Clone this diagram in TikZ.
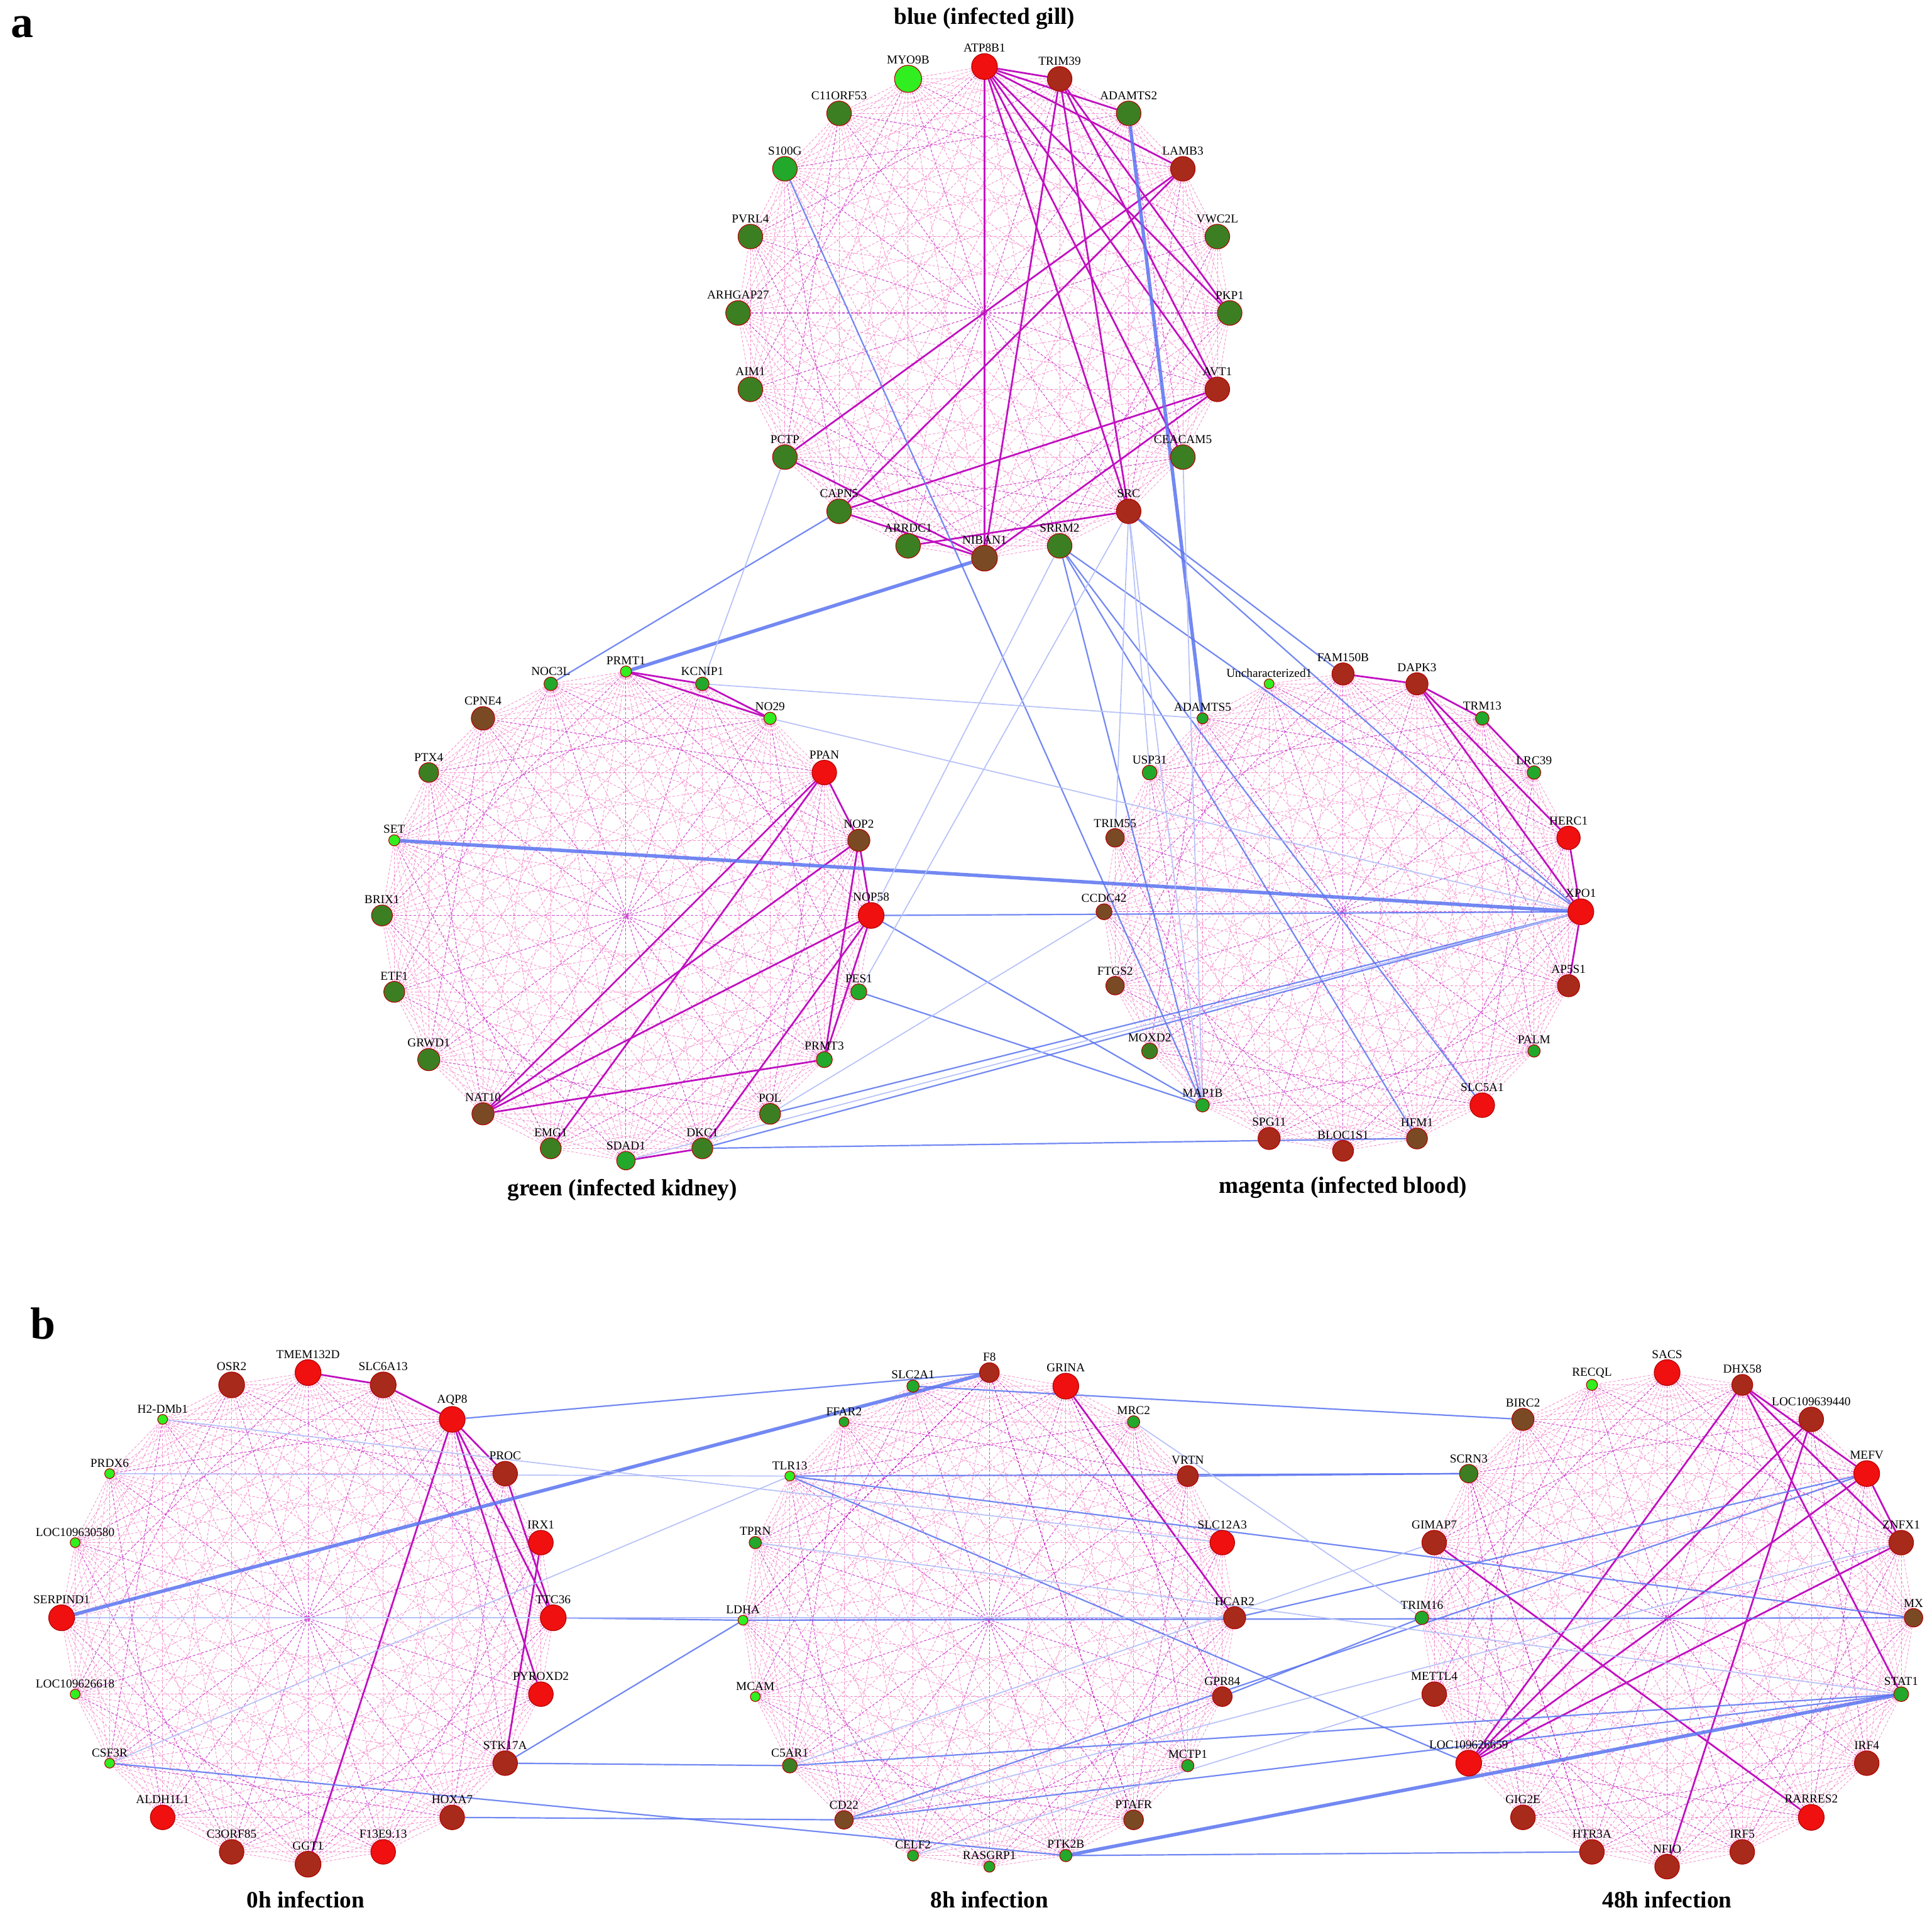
\documentclass[tikz,border=0pt]{standalone}
\usepackage{fontspec}
\setmainfont{Liberation Serif}
\pgfdeclarelayer{bg}
\pgfdeclarelayer{edges}
\pgfsetlayers{bg,edges,main}
\definecolor{cR}{HTML}{F01010}
\definecolor{cD}{HTML}{A82A1A}
\definecolor{cB}{HTML}{7A4A24}
\definecolor{cG}{HTML}{3C7F22}
\definecolor{cM}{HTML}{22A82A}
\definecolor{cL}{HTML}{30EE20}
\definecolor{bl}{HTML}{5A74F0}
\definecolor{mg}{HTML}{C010C0}
\tikzset{
 gn/.style={circle,inner sep=0pt,draw=red!70!black,line width=0.8pt},
 lab/.style={font=\fontsize{14}{14}\selectfont},
 pe/.style={draw=magenta!45,line width=0.6pt,dash pattern=on 3pt off 2pt},
 pe2/.style={draw=mg!75,line width=0.8pt,dash pattern=on 3pt off 2pt},
 se/.style={draw=mg,line width=2pt},
 be/.style={draw=bl,line width=1.6pt,opacity=0.85},
 bt/.style={draw=bl,line width=4pt,opacity=0.85},
 bf/.style={draw=bl!45,line width=1.2pt},
 ttl/.style={font=\fontsize{27}{27}\selectfont\bfseries},
}
\begin{document}
\begin{tikzpicture}[x=0.05cm,y=-0.05cm]
\useasboundingbox (0,0) rectangle (1568,1558);
\begin{pgfonlayer}{bg}\fill[white] (0,0) rectangle (1568,1558);\end{pgfonlayer}
\def\cl#1{\foreach \n/\x/\y/\c/\s/\l in {#1}{\node[gn,fill=\c,minimum size=\s cm,label={[lab,inner sep=1pt]above:\l}] (\n) at (\x,\y) {};}}
% panel a, blue
\cl{MYO9B/737/64/cL/1.1/MYO9B,ATP8B1/799/54/cR/1.05/ATP8B1,TRIM39/860/64/cD/1/TRIM39,ADAMTS2/916/92/cG/1/ADAMTS2,LAMB3/960/137/cD/1/LAMB3,VWC2L/988/192/cG/1/VWC2L,PKP1/998/254/cG/1/PKP1,AVT1/988/316/cD/1/AVT1,CEACAM5/960/371/cG/1/CEACAM5,SRC/916/415/cD/1/SRC,SRRM2/860/443/cG/1/SRRM2,NIBAN1/799/453/cB/1.05/NIBAN1,ARRDC1/737/443/cG/1/ARRDC1,CAPN5/681/415/cG/1/CAPN5,PCTP/637/371/cG/1/PCTP,AIM1/609/316/cG/1/AIM1,ARHGAP27/599/254/cG/1/ARHGAP27,PVRL4/609/192/cG/1/PVRL4,S100G/637/137/cM/1/S100G,C11ORF53/681/92/cG/1/C11ORF53}
% kidney
\cl{NOC3L/447/555/cM/0.55/NOC3L,PRMT1/508/545/cL/0.45/PRMT1,KCNIP1/570/555/cM/0.55/KCNIP1,NO29/625/583/cL/0.5/NO29,PPAN/669/627/cR/1/PPAN,NOP2/697/682/cB/0.9/NOP2,NOP58/707/743/cR/1.05/NOP58,PES1/697/805/cM/0.65/PES1,PRMT3/669/860/cM/0.65/PRMT3,POL/625/904/cG/0.85/POL,DKC1/570/932/cG/0.85/DKC1,SDAD1/508/942/cM/0.75/SDAD1,EMG1/447/932/cG/0.85/EMG1,NAT10/392/904/cB/0.9/NAT10,GRWD1/348/860/cG/0.9/GRWD1,ETF1/320/805/cG/0.85/ETF1,BRIX1/310/743/cG/0.85/BRIX1,SET/320/682/cL/0.45/SET,PTX4/348/627/cG/0.8/PTX4,CPNE4/392/583/cB/0.95/CPNE4}
% blood
\cl{FAM150B/1090/547/cD/0.9/FAM150B,DAPK3/1150/555/cD/0.9/DAPK3,TRM13/1203/583/cM/0.55/TRM13,LRC39/1245/627/cM/0.55/LRC39,HERC1/1273/680/cR/0.95/HERC1,XPO1/1283/740/cR/1.05/XPO1,AP5S1/1273/800/cD/0.9/AP5S1,PALM/1245/853/cM/0.5/PALM,SLC5A1/1203/897/cR/1/SLC5A1,HFM1/1150/924/cB/0.85/HFM1,BLOC1S1/1090/934/cD/0.85/BLOC1S1,SPG11/1030/924/cD/0.9/SPG11,MAP1B/976/897/cM/0.55/MAP1B,MOXD2/933/853/cG/0.65/MOXD2,FTGS2/905/800/cB/0.75/FTGS2,CCDC42/896/740/cB/0.65/CCDC42,TRIM55/905/680/cB/0.75/TRIM55,USP31/933/627/cM/0.6/USP31,ADAMTS5/976/583/cM/0.45/ADAMTS5,Unch/1030/555/cL/0.4/Uncharacterized1}
% panel b 0h
\cl{TMEM132D/250/1114/cR/1.05/TMEM132D,SLC6A13/311/1124/cD/1.05/SLC6A13,AQP8/367/1152/cR/1.05/AQP8,PROC/410/1196/cD/1/PROC,IRX1/439/1252/cR/1/IRX1,TTC36/449/1313/cR/1.05/TTC36,PYROXD2/439/1375/cR/1/PYROXD2,STK17A/410/1431/cD/1/STK17A,HOXA7/367/1475/cD/1/HOXA7,F13E9/311/1503/cR/1/F13E9.13,GGT1/250/1513/cD/1.05/GGT1,C3ORF85/188/1503/cD/1/C3ORF85,ALDH1L1/132/1475/cR/1/ALDH1L1,CSF3R/89/1431/cL/0.4/CSF3R,LOC109626618/61/1375/cL/0.4/LOC109626618,SERPIND1/50/1313/cR/1.05/SERPIND1,LOC109630580/61/1252/cL/0.4/LOC109630580,PRDX6/89/1196/cL/0.4/PRDX6,H2DMb1/132/1152/cL/0.4/H2-DMb1,OSR2/188/1124/cD/1.05/OSR2}
% 8h
\cl{F8/803/1114/cD/0.8/F8,GRINA/865/1125/cR/1.05/GRINA,MRC2/920/1154/cM/0.5/MRC2,VRTN/964/1198/cD/0.85/VRTN,SLC12A3/992/1252/cR/1/SLC12A3,HCAR2/1002/1313/cD/0.9/HCAR2,GPR84/992/1377/cD/0.8/GPR84,MCTP1/964/1433/cM/0.5/MCTP1,PTAFR/920/1477/cB/0.8/PTAFR,PTK2B/865/1506/cM/0.5/PTK2B,RASGRP1/803/1515/cM/0.45/RASGRP1,CELF2/741/1506/cM/0.45/CELF2,CD22/685/1477/cB/0.75/CD22,C5AR1/641/1433/cG/0.6/C5AR1,MCAM/613/1377/cL/0.4/MCAM,LDHA/603/1315/cL/0.4/LDHA,TPRN/613/1252/cM/0.5/TPRN,TLR13/641/1198/cL/0.4/TLR13,FFAR2/685/1154/cM/0.4/FFAR2,SLC2A1/741/1125/cM/0.5/SLC2A1}
% 48h
\cl{SACS/1353/1114/cR/1.05/SACS,DHX58/1414/1124/cD/0.85/DHX58,LOC109639440/1470/1152/cD/1/LOC109639440,MEFV/1515/1196/cR/1.05/MEFV,ZNFX1/1543/1252/cD/1/ZNFX1,MX/1553/1313/cB/0.75/MX,STAT1/1543/1375/cM/0.6/STAT1,IRF4/1515/1431/cD/1/IRF4,RARRES2/1470/1475/cR/1.05/RARRES2,IRF5/1414/1503/cD/1/IRF5,NFIO/1353/1515/cD/1/NFIO,HTR3A/1292/1503/cD/1/HTR3A,GIG2E/1236/1475/cD/1/GIG2E,LOC109626659/1192/1431/cR/1.05/LOC109626659,METTL4/1164/1375/cD/1/METTL4,TRIM16/1154/1313/cM/0.55/TRIM16,GIMAP7/1164/1252/cD/1/GIMAP7,SCRN3/1192/1196/cG/0.75/SCRN3,BIRC2/1236/1152/cB/0.9/BIRC2,RECQL/1292/1124/cL/0.45/RECQL}
\begin{pgfonlayer}{edges}
\def\dense#1{\foreach \a [count=\i] in {#1}{\foreach \b [count=\j] in {#1}{\ifnum\j>\i \pgfmathtruncatemacro\m{mod(\i*7+\j*3,5)}\ifnum\m=0 \draw[pe2] (\a)--(\b);\else\draw[pe] (\a)--(\b);\fi\fi}}}
\dense{MYO9B,ATP8B1,TRIM39,ADAMTS2,LAMB3,VWC2L,PKP1,AVT1,CEACAM5,SRC,SRRM2,NIBAN1,ARRDC1,CAPN5,PCTP,AIM1,ARHGAP27,PVRL4,S100G,C11ORF53}
\dense{NOC3L,PRMT1,KCNIP1,NO29,PPAN,NOP2,NOP58,PES1,PRMT3,POL,DKC1,SDAD1,EMG1,NAT10,GRWD1,ETF1,BRIX1,SET,PTX4,CPNE4}
\dense{FAM150B,DAPK3,TRM13,LRC39,HERC1,XPO1,AP5S1,PALM,SLC5A1,HFM1,BLOC1S1,SPG11,MAP1B,MOXD2,FTGS2,CCDC42,TRIM55,USP31,ADAMTS5,Unch}
\dense{TMEM132D,SLC6A13,AQP8,PROC,IRX1,TTC36,PYROXD2,STK17A,HOXA7,F13E9,GGT1,C3ORF85,ALDH1L1,CSF3R,LOC109626618,SERPIND1,LOC109630580,PRDX6,H2DMb1,OSR2}
\dense{F8,GRINA,MRC2,VRTN,SLC12A3,HCAR2,GPR84,MCTP1,PTAFR,PTK2B,RASGRP1,CELF2,CD22,C5AR1,MCAM,LDHA,TPRN,TLR13,FFAR2,SLC2A1}
\dense{SACS,DHX58,LOC109639440,MEFV,ZNFX1,MX,STAT1,IRF4,RARRES2,IRF5,NFIO,HTR3A,GIG2E,LOC109626659,METTL4,TRIM16,GIMAP7,SCRN3,BIRC2,RECQL}
% strong magenta
\foreach \a/\b in {ATP8B1/SRC,ATP8B1/NIBAN1,ATP8B1/AVT1,ATP8B1/LAMB3,ATP8B1/PKP1,ATP8B1/CEACAM5,ATP8B1/TRIM39,ATP8B1/ADAMTS2,TRIM39/AVT1,TRIM39/SRC,TRIM39/NIBAN1,TRIM39/PKP1,LAMB3/CAPN5,LAMB3/PCTP,AVT1/CAPN5,AVT1/NIBAN1,PCTP/NIBAN1,SRC/ARRDC1,CAPN5/NIBAN1,PRMT1/NO29,KCNIP1/NO29,PRMT1/KCNIP1,PPAN/NAT10,PPAN/EMG1,PPAN/NOP2,NOP2/NOP58,NOP58/NAT10,NOP58/PRMT3,NOP2/PRMT3,NOP58/DKC1,PRMT3/NAT10,SDAD1/DKC1,NAT10/NOP2,FAM150B/DAPK3,DAPK3/HERC1,DAPK3/XPO1,DAPK3/TRM13,TRM13/LRC39,HERC1/XPO1,XPO1/AP5S1,TMEM132D/SLC6A13,SLC6A13/AQP8,AQP8/PROC,AQP8/TTC36,PROC/TTC36,AQP8/GGT1,IRX1/STK17A,AQP8/PYROXD2,GRINA/HCAR2,DHX58/LOC109626659,LOC109639440/LOC109626659,MEFV/LOC109626659,ZNFX1/LOC109626659,DHX58/STAT1,LOC109639440/NFIO,GIMAP7/RARRES2,DHX58/MEFV,MEFV/ZNFX1,DHX58/ZNFX1}
  {\draw[se] (\a)--(\b);}
\foreach \a/\b in {F8/LDHA,F8/PTAFR,GRINA/GPR84,SCRN3/HTR3A}{\draw[pe2,draw=mg] (\a)--(\b);}
% blue
\foreach \a/\b in {NIBAN1/PRMT1,ADAMTS2/ADAMTS5,SET/XPO1,SERPIND1/F8,PTK2B/STAT1}{\draw[bt] (\a)--(\b);}
\foreach \a/\b in {S100G/MAP1B,CAPN5/NOC3L,SRC/XPO1,SRC/FAM150B,SRRM2/MAP1B,SRRM2/HFM1,SRRM2/SLC5A1,SRRM2/XPO1,NOP58/XPO1,NOP58/MAP1B,PES1/MAP1B,DKC1/XPO1,POL/XPO1,DKC1/HFM1,TLR13/LOC109626659,TLR13/MX,F8/AQP8,LDHA/STK17A,LDHA/TTC36,LDHA/MX,STK17A/C5AR1,C5AR1/STAT1,CD22/MEFV,CD22/STAT1,PTK2B/HTR3A,CSF3R/PTK2B,HOXA7/CD22,TLR13/SCRN3,SLC2A1/BIRC2,VRTN/SCRN3,HCAR2/MEFV,GPR84/TRIM16}{\draw[be] (\a)--(\b);}
\foreach \a/\b in {PCTP/KCNIP1,NO29/XPO1,NOP58/SRRM2,CEACAM5/MAP1B,SRC/MAP1B,KCNIP1/ADAMTS5,PES1/SRC,SRC/TRIM55,SRC/USP31,POL/CCDC42,SDAD1/XPO1,CSF3R/TLR13,PRDX6/TLR13,MRC2/TRIM16,C5AR1/GIMAP7,CELF2/METTL4,H2DMb1/SLC12A3,TPRN/STAT1,SERPIND1/HCAR2,CD22/ZNFX1}{\draw[bf] (\a)--(\b);}
\end{pgfonlayer}
\node[ttl] (t1) at (799,15) {blue (infected gill)};
\node[ttl] (t2) at (505,966) {green (infected kidney)};
\node[ttl] (t3) at (1090,964) {magenta (infected blood)};
\node[ttl] (t4) at (248,1542) {0h infection};
\node[ttl] (t5) at (803,1542) {8h infection};
\node[ttl] (t6) at (1353,1542) {48h infection};
\node[font=\fontsize{52}{52}\selectfont\bfseries,inner sep=0pt] (pa) at (18,22) {a};
\node[font=\fontsize{52}{52}\selectfont\bfseries,inner sep=0pt] (pb) at (35,1074) {b};
\end{tikzpicture}
\end{document}
